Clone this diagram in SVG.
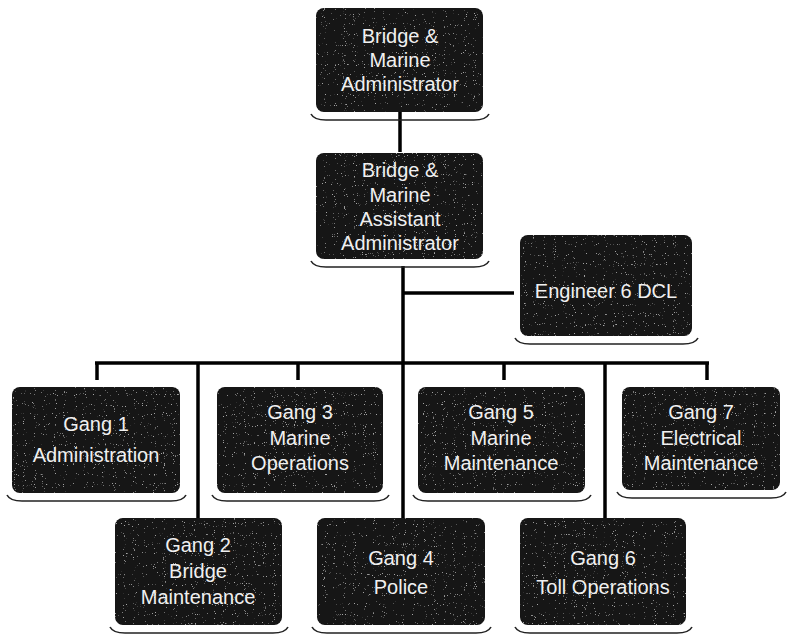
<svg xmlns="http://www.w3.org/2000/svg" width="787" height="635" viewBox="0 0 787 635">
<defs>
<style>
.box{fill:#121212;}
.shadow{fill:none;stroke:#222;stroke-width:1.6;}
.t{font-family:"Liberation Sans","DejaVu Sans",sans-serif;font-size:20px;fill:#f0f0f0;text-anchor:middle;}
.c{stroke:#000;stroke-width:3.5;fill:none;stroke-linecap:butt;}
</style>
<filter id="speck" x="0" y="0" width="1" height="1">
<feTurbulence type="fractalNoise" baseFrequency="0.9" numOctaves="1" seed="3" result="n"/>
<feColorMatrix in="n" type="matrix" values="0 0 0 0 0.38  0 0 0 0 0.38  0 0 0 0 0.38  0 0 0 14 -9.6" result="d"/>
<feComposite in="d" in2="SourceGraphic" operator="in" result="s"/>
<feMerge><feMergeNode in="SourceGraphic"/><feMergeNode in="s"/></feMerge>
</filter>
</defs>
<rect width="787" height="635" fill="#fff"/>
<g id="connectors">
<path class="c" d="M400 112 V152"/>
<path class="c" d="M403 266 V518"/>
<path class="c" d="M403 293 H514"/>
<path class="c" d="M95 363 H709"/>
<path class="c" d="M97 363 V380"/>
<path class="c" d="M298 363 V380"/>
<path class="c" d="M504 363 V380"/>
<path class="c" d="M707 363 V380"/>
<path class="c" d="M198 363 V518"/>
<path class="c" d="M605 363 V518"/>
</g>
<g id="admin">
<rect class="box" x="316" y="8" width="167" height="104" rx="8" filter="url(#speck)"/>
<path class="shadow" d="M311 114 Q314 120 326 120 H474 Q486 120 489 114"/>
<text class="t" x="400" y="43">Bridge &amp;</text>
<text class="t" x="400" y="67">Marine</text>
<text class="t" x="400" y="91">Administrator</text>
</g>
<g id="assistant">
<rect class="box" x="316" y="153" width="167" height="106" rx="8" filter="url(#speck)"/>
<path class="shadow" d="M311 261 Q314 267 326 267 H474 Q486 267 489 261"/>
<text class="t" x="400" y="177">Bridge &amp;</text>
<text class="t" x="400" y="202">Marine</text>
<text class="t" x="400" y="226">Assistant</text>
<text class="t" x="400" y="250">Administrator</text>
</g>
<g id="engineer">
<rect class="box" x="520" y="235" width="172" height="101" rx="8" filter="url(#speck)"/>
<path class="shadow" d="M515 338 Q518 344 530 344 H683 Q695 344 698 338"/>
<text class="t" x="606" y="298">Engineer 6 DCL</text>
</g>
<g id="gang1">
<rect class="box" x="12" y="387" width="168" height="106" rx="8" filter="url(#speck)"/>
<path class="shadow" d="M7 495 Q10 501 22 501 H171 Q183 501 186 495"/>
<text class="t" x="96" y="431">Gang 1</text>
<text class="t" x="96" y="462">Administration</text>
</g>
<g id="gang3">
<rect class="box" x="217" y="387" width="166" height="106" rx="8" filter="url(#speck)"/>
<path class="shadow" d="M212 495 Q215 501 227 501 H374 Q386 501 389 495"/>
<text class="t" x="300" y="419">Gang 3</text>
<text class="t" x="300" y="445">Marine</text>
<text class="t" x="300" y="470">Operations</text>
</g>
<g id="gang5">
<rect class="box" x="418" y="387" width="167" height="106" rx="8" filter="url(#speck)"/>
<path class="shadow" d="M413 495 Q416 501 428 501 H576 Q588 501 591 495"/>
<text class="t" x="501" y="419">Gang 5</text>
<text class="t" x="501" y="445">Marine</text>
<text class="t" x="501" y="470">Maintenance</text>
</g>
<g id="gang7">
<rect class="box" x="622" y="387" width="158" height="103" rx="8" filter="url(#speck)"/>
<path class="shadow" d="M617 492 Q620 498 632 498 H771 Q783 498 786 492"/>
<text class="t" x="701" y="419">Gang 7</text>
<text class="t" x="701" y="445">Electrical</text>
<text class="t" x="701" y="470">Maintenance</text>
</g>
<g id="gang2">
<rect class="box" x="115" y="518" width="167" height="107" rx="8" filter="url(#speck)"/>
<path class="shadow" d="M110 627 Q113 633 125 633 H273 Q285 633 288 627"/>
<text class="t" x="198" y="552">Gang 2</text>
<text class="t" x="198" y="578">Bridge</text>
<text class="t" x="198" y="604">Maintenance</text>
</g>
<g id="gang4">
<rect class="box" x="317" y="518" width="168" height="107" rx="8" filter="url(#speck)"/>
<path class="shadow" d="M312 627 Q315 633 327 633 H476 Q488 633 491 627"/>
<text class="t" x="401" y="565">Gang 4</text>
<text class="t" x="401" y="594">Police</text>
</g>
<g id="gang6">
<rect class="box" x="520" y="518" width="166" height="107" rx="8" filter="url(#speck)"/>
<path class="shadow" d="M515 627 Q518 633 530 633 H677 Q689 633 692 627"/>
<text class="t" x="603" y="565">Gang 6</text>
<text class="t" x="603" y="594">Toll Operations</text>
</g>
</svg>
